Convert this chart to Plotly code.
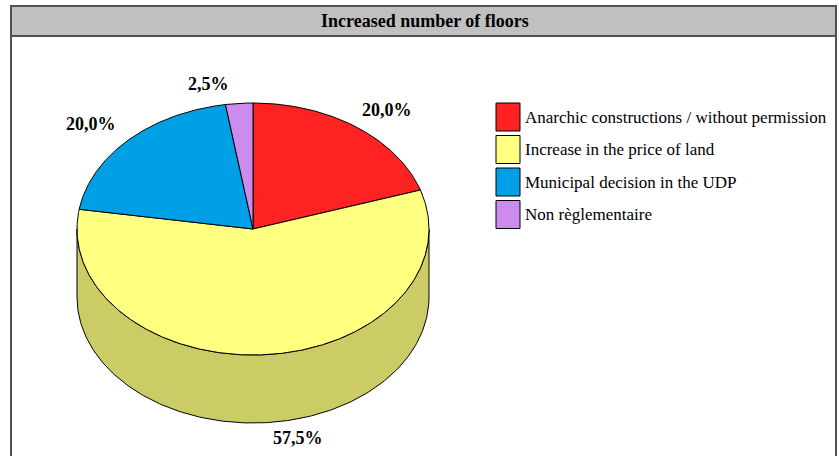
import numpy as np
import plotly.graph_objects as go

# ---- data ----
title = "Increased number of floors"
categories = ["Anarchic constructions / without permission",
              "Increase in the price of land",
              "Municipal decision in the UDP",
              "Non règlementaire"]
values = [20.0, 57.5, 20.0, 2.5]
colors = ["#FF2222", "#FFFF80", "#00A0E6", "#CC8CEE"]

# ---- geometry (pixel space) ----
W, H = 839, 456
cx, cy = 253, 229
rx, ry = 176, 126
depth = 68
FONT = "Liberation Serif, Times New Roman, serif"


def shade(hexc, f=0.8):
    h = hexc.lstrip('#')
    r, g, b = (int(h[i:i + 2], 16) for i in (0, 2, 4))
    return "#%02X%02X%02X" % (int(r * f), int(g * f), int(b * f))


def ell(theta_deg, dy=0.0):
    t = np.radians(theta_deg)
    return cx + rx * np.sin(t), cy - ry * np.cos(t) + dy


total = sum(values)
starts, ends = [], []
acc = 0.0
for v in values:
    starts.append(acc / total * 360)
    acc += v
    ends.append(acc / total * 360)

fig = go.Figure()

# side walls (visible front half: 90..270 deg)
for i, (a0, a1) in enumerate(zip(starts, ends)):
    lo, hi = max(a0, 90), min(a1, 270)
    if hi <= lo:
        continue
    th = np.linspace(lo, hi, 200)
    xt, yt = ell(th)
    xb, yb = ell(th[::-1], depth)
    xs = np.concatenate([xt, xb, xt[:1]])
    ys = np.concatenate([yt, yb, yt[:1]])
    fig.add_trace(go.Scatter(x=xs, y=ys, mode="lines", fill="toself",
                             fillcolor=shade(colors[i]),
                             line=dict(color="#000000", width=1),
                             hoverinfo="skip", showlegend=False))

# top faces
for i, (a0, a1) in enumerate(zip(starts, ends)):
    th = np.linspace(a0, a1, max(int((a1 - a0) * 2), 8))
    xt, yt = ell(th)
    xs = np.concatenate([[cx], xt, [cx]])
    ys = np.concatenate([[cy], yt, [cy]])
    fig.add_trace(go.Scatter(x=xs, y=ys, mode="lines", fill="toself",
                             fillcolor=colors[i],
                             line=dict(color="#000000", width=1),
                             name=categories[i],
                             hoverinfo="name", showlegend=False))

annotations = []
# data labels
for v, a0, a1 in zip(values, starts, ends):
    m = np.radians((a0 + a1) / 2)
    s, c = np.sin(m), np.cos(m)
    lx = cx + np.sign(s) * max(1.3 * rx * abs(s), 45)
    ly = cy - c * (ry + 9) - np.sign(c) * 10 + (depth - 4 if c < 0 else 0)
    annotations.append(dict(x=lx, y=ly, xref="x", yref="y",
                            text="<b>" + f"{v:.1f}".replace(".", ",") + "%</b>",
                            showarrow=False, xanchor="center", yanchor="middle",
                            font=dict(family=FONT, size=18, color="#000000")))

# title
annotations.append(dict(x=(11 + 836) / 2 + 1, y=21, xref="x", yref="y", text="<b>" + title + "</b>",
                        showarrow=False, xanchor="center", yanchor="middle",
                        font=dict(family=FONT, size=18, color="#000000")))

shapes = [
    dict(type="rect", xref="x", yref="y", x0=11, x1=836, y0=6, y1=500,
         line=dict(color="#505050", width=2), fillcolor="rgba(0,0,0,0)", layer="below"),
    dict(type="rect", xref="x", yref="y", x0=11, x1=836, y0=6, y1=36,
         line=dict(color="#505050", width=2), fillcolor="#C0C0C0", layer="below"),
]

# legend
lx0, ly0, step = 496, 103, 32.5
for i, (cat, col) in enumerate(zip(categories, colors)):
    y0 = ly0 + i * step
    shapes.append(dict(type="rect", xref="x", yref="y", x0=lx0, x1=lx0 + 24,
                       y0=y0, y1=y0 + 28, fillcolor=col,
                       line=dict(color="#000000", width=1)))
    annotations.append(dict(x=lx0 + 27, y=y0 + 14, xref="x", yref="y", text=cat,
                            showarrow=False, xanchor="left", yanchor="middle",
                            font=dict(family=FONT, size=17, color="#000000")))

fig.update_layout(
    width=W, height=H, autosize=False,
    margin=dict(l=0, r=0, t=0, b=0),
    paper_bgcolor="#FFFFFF", plot_bgcolor="#FFFFFF",
    xaxis=dict(range=[0, W], visible=False, fixedrange=True),
    yaxis=dict(range=[H, 0], visible=False, fixedrange=True),
    shapes=shapes, annotations=annotations, showlegend=False,
)

fig.write_html("out.html", config={"displayModeBar": False},
               post_script="document.body.style.margin='0px';document.body.style.overflow='hidden';")
